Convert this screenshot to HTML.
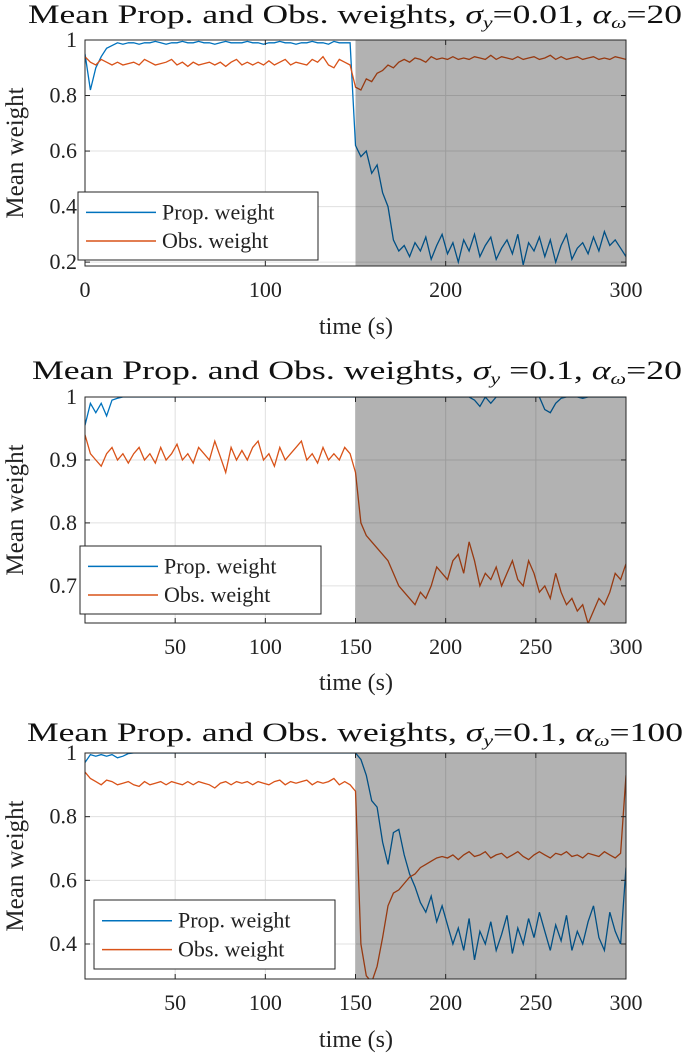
<!DOCTYPE html>
<html><head><meta charset="utf-8"><style>
html,body{margin:0;padding:0;background:#fff;}
svg{display:block;font-family:"Liberation Serif",serif;}
</style></head><body>
<svg id="fig" width="685" height="1060" viewBox="0 0 685 1060" xmlns="http://www.w3.org/2000/svg"></svg>
<script>
// time samples (s), step 3
const times = Array.from({length:101},(_,i)=>i*3);
const p1Prop = [0.95,0.82,0.90,0.94,0.97,0.98,0.99,0.985,0.99,0.99,
0.985,0.99,0.99,0.995,0.99,0.985,0.99,0.99,0.995,0.99,
0.99,0.995,0.99,0.99,0.985,0.99,0.995,0.99,0.99,0.99,
0.995,0.99,0.99,0.985,0.99,0.99,0.995,0.99,0.99,0.985,
0.99,0.99,0.995,0.99,0.99,0.985,0.995,0.99,0.99,0.99,
0.62,0.58,0.60,0.52,0.55,0.45,0.40,0.28,0.24,0.26,
0.22,0.27,0.24,0.29,0.21,0.26,0.30,0.23,0.27,0.20,
0.28,0.24,0.30,0.22,0.26,0.29,0.21,0.25,0.28,0.23,
0.30,0.19,0.27,0.24,0.29,0.22,0.28,0.20,0.26,0.30,
0.21,0.25,0.27,0.23,0.29,0.24,0.31,0.26,0.28,0.25,0.22];
const p1Obs = [0.94,0.92,0.91,0.93,0.92,0.91,0.92,0.91,0.915,0.92,
0.91,0.93,0.92,0.91,0.915,0.92,0.93,0.91,0.92,0.905,
0.92,0.91,0.915,0.92,0.91,0.92,0.905,0.92,0.93,0.91,
0.92,0.91,0.92,0.91,0.925,0.91,0.92,0.93,0.91,0.92,
0.915,0.91,0.93,0.92,0.94,0.91,0.90,0.93,0.92,0.91,
0.83,0.82,0.86,0.85,0.88,0.89,0.91,0.90,0.92,0.93,
0.92,0.935,0.93,0.92,0.94,0.93,0.935,0.93,0.94,0.93,
0.935,0.93,0.94,0.935,0.93,0.945,0.93,0.94,0.935,0.93,
0.94,0.93,0.935,0.94,0.93,0.935,0.945,0.93,0.94,0.93,
0.935,0.94,0.93,0.935,0.94,0.93,0.935,0.93,0.94,0.935,0.93];
const p2Prop = [0.955,0.99,0.975,0.99,0.97,0.995,0.998,1,1,1,
1,1,1,1,1,1,1,1,1,1,
1,1,1,1,1,1,1,1,1,1,
1,1,1,1,1,1,1,1,1,1,
1,1,1,1,1,1,1,1,1,1,
1,1,1,1,1,1,1,1,1,1,
1,1,1,1,1,1,1,1,1,1,
1,1,0.995,0.985,1,0.99,1,1,1,1,
1,1,1,1,1,0.98,0.975,0.99,0.998,1,
1,1,0.998,1,1,1,1,1,1,1,1];
const p2Obs = [0.94,0.91,0.90,0.89,0.91,0.92,0.90,0.91,0.895,0.91,
0.92,0.90,0.91,0.895,0.92,0.90,0.91,0.925,0.90,0.91,
0.895,0.92,0.91,0.90,0.93,0.905,0.88,0.92,0.90,0.915,
0.90,0.92,0.93,0.90,0.91,0.89,0.92,0.90,0.91,0.92,
0.93,0.90,0.91,0.895,0.92,0.90,0.91,0.90,0.92,0.91,
0.88,0.80,0.78,0.77,0.76,0.75,0.74,0.72,0.70,0.69,
0.68,0.67,0.69,0.68,0.70,0.73,0.72,0.71,0.74,0.75,
0.72,0.77,0.74,0.70,0.72,0.71,0.73,0.70,0.72,0.74,
0.71,0.70,0.74,0.72,0.69,0.70,0.68,0.72,0.69,0.67,
0.68,0.66,0.67,0.64,0.66,0.68,0.67,0.69,0.72,0.71,0.735];
const p3Prop = [0.97,0.995,0.99,0.995,0.99,0.995,0.985,0.99,0.998,1,
1,1,1,1,1,1,1,1,1,1,
1,1,1,1,1,1,1,1,1,1,
1,1,1,1,1,1,1,1,1,1,
1,1,1,1,1,1,1,1,1,1,
1,0.98,0.93,0.85,0.83,0.72,0.65,0.75,0.76,0.68,
0.62,0.58,0.53,0.50,0.55,0.47,0.52,0.46,0.40,0.45,
0.38,0.48,0.35,0.44,0.40,0.47,0.38,0.43,0.49,0.37,
0.45,0.40,0.48,0.42,0.50,0.44,0.38,0.46,0.41,0.49,
0.38,0.44,0.40,0.47,0.52,0.42,0.38,0.50,0.44,0.40,0.64];
const p3Obs = [0.94,0.92,0.91,0.90,0.915,0.91,0.90,0.905,0.91,0.90,
0.895,0.91,0.90,0.905,0.91,0.90,0.91,0.905,0.90,0.91,
0.90,0.91,0.905,0.90,0.89,0.905,0.91,0.90,0.91,0.905,
0.91,0.90,0.91,0.905,0.90,0.91,0.915,0.90,0.91,0.905,
0.91,0.915,0.90,0.91,0.905,0.91,0.92,0.90,0.91,0.90,
0.88,0.40,0.30,0.28,0.33,0.42,0.52,0.56,0.57,0.59,
0.61,0.62,0.64,0.65,0.66,0.67,0.675,0.67,0.68,0.665,
0.68,0.69,0.675,0.68,0.69,0.67,0.68,0.685,0.67,0.68,
0.69,0.675,0.665,0.68,0.69,0.68,0.67,0.685,0.68,0.69,
0.675,0.68,0.67,0.685,0.68,0.675,0.69,0.68,0.67,0.685,0.93];
const p1YTicks = [0.2,0.4,0.6,0.8,1];
const p1YLabels = ["0.2","0.4","0.6","0.8","1"];
const p1XTicks = [0,100,200,300];
const p2YTicks = [0.7,0.8,0.9,1];
const p2YLabels = ["0.7","0.8","0.9","1"];
const p3YTicks = [0.4,0.6,0.8,1];
const p3YLabels = ["0.4","0.6","0.8","1"];
const p23XTicks = [50,100,150,200,250,300];
const shadeStart = 150;

const NS="http://www.w3.org/2000/svg";
const svg=document.getElementById('fig');
function mk(tag,attrs,parent){const e=document.createElementNS(NS,tag);for(const k in attrs)e.setAttribute(k,attrs[k]);(parent||svg).appendChild(e);return e;}

function drawPlot(o){
  const g=mk('g',{});
  
  
  const L=85,R=626,T=o.top,B=o.bottom;
  const xs=v=>L+(v-0)/(300-0)*(R-L);
  const ys=v=>B-(v-o.ymin)/(o.ymax-o.ymin)*(B-T);
  mk('rect',{x:L,y:T,width:R-L,height:B-T,fill:'#fff'},g);
  o.xt.forEach(v=>{const l=mk('line',{x1:xs(v),x2:xs(v),y1:T,y2:B,stroke:'#e0e0e0','stroke-width':1},g);
    
    });
  o.yt.forEach(v=>{const l=mk('line',{x1:L,x2:R,y1:ys(v),y2:ys(v),stroke:'#e0e0e0','stroke-width':1},g);
    
    });
  const clipId='c'+o.name;
  const cp=mk('clipPath',{id:clipId},g);mk('rect',{x:L,y:T,width:R-L,height:B-T},cp);
  const series=[[o.prop,'#0072BD','prop-weight-line'],[o.obs,'#D95319','obs-weight-line']];
  series.forEach(([d,c,n])=>{
    const pts=times.map((t,i)=>xs(t).toFixed(1)+','+ys(d[i]).toFixed(1)).join(' ');
    const p=mk('polyline',{points:pts,fill:'none',stroke:c,'stroke-width':1.3,'clip-path':'url(#'+clipId+')'},g);
    
    
  });
  const sh=mk('rect',{x:xs(shadeStart),y:T,width:R-xs(shadeStart),height:B-T,fill:'rgba(0,0,0,0.3)'},g);
  
  
  mk('rect',{x:L,y:T,width:R-L,height:B-T,fill:'none',stroke:'#262626','stroke-width':1},g);
  o.xt.forEach(v=>{
    mk('line',{x1:xs(v),x2:xs(v),y1:B,y2:B-5,stroke:'#262626'},g);
    mk('line',{x1:xs(v),x2:xs(v),y1:T,y2:T+5,stroke:'#262626'},g);
    const t=mk('text',{x:xs(v),y:B+31,'text-anchor':'middle','font-size':22,fill:'#222'},g);
    t.textContent=String(v);
    
    
  });
  o.yt.forEach((v,i)=>{
    mk('line',{x1:L,x2:L+5,y1:ys(v),y2:ys(v),stroke:'#262626'},g);
    mk('line',{x1:R,x2:R-5,y1:ys(v),y2:ys(v),stroke:'#262626'},g);
    const t=mk('text',{x:L-8,y:ys(v)+7,'text-anchor':'end','font-size':22,fill:'#222'},g);
    t.textContent=o.yl[i];
    
    
  });
  const xl=mk('text',{x:356,y:o.xlabelY,'text-anchor':'middle','font-size':24,fill:'#222'},g);
  xl.textContent='time (s)';
  
  
  const yc=(T+B)/2;
  const yl=mk('text',{x:23,y:yc,'text-anchor':'middle','font-size':25,fill:'#222',transform:'rotate(-90 23 '+yc+')'},g);
  yl.textContent='Mean weight';
  
  
  const ti=mk('text',{x:o.tx,y:o.titleY,'font-size':26,fill:'#111',textLength:o.tw,lengthAdjust:'spacingAndGlyphs'},g);
  ti.innerHTML='Mean Prop. and Obs. weights, <tspan font-style="italic">σ</tspan><tspan font-style="italic" font-size="16" dy="5">y</tspan><tspan dy="-5">'+o.sig+', </tspan><tspan font-style="italic">α</tspan><tspan font-style="italic" font-size="16" dy="5">ω</tspan><tspan dy="-5">='+o.alpha+'</tspan>';
  
  
  const lg=mk('g',{},g);
  
  
  const [lx,ly,lw,lh]=o.leg;
  mk('rect',{x:lx,y:ly,width:lw,height:lh,fill:'#fff',stroke:'#262626','stroke-width':1},lg);
  [['Prop. weight','#0072BD'],['Obs. weight','#D95319']].forEach(([s,c],i)=>{
    const yy=ly+lh*(i===0?0.3:0.72);
    mk('line',{x1:lx+8,x2:lx+78,y1:yy,y2:yy,stroke:c,'stroke-width':1.5},lg);
    const t=mk('text',{x:lx+84,y:yy+7,'font-size':22,fill:'#222'},lg);
    t.textContent=s;
    
    
  });
}
drawPlot({name:'plot-sigma001-alpha20',top:40,bottom:266,ymin:0.186,ymax:1,prop:p1Prop,obs:p1Obs,xt:p1XTicks,yt:p1YTicks,yl:p1YLabels,xlabelY:334,titleY:23,tx:28,tw:654,sig:'=0.01',alpha:'20',leg:[78,192,240,68]});
drawPlot({name:'plot-sigma01-alpha20',top:397,bottom:623,ymin:0.641,ymax:1,prop:p2Prop,obs:p2Obs,xt:p23XTicks,yt:p2YTicks,yl:p2YLabels,xlabelY:690,titleY:379,tx:32,tw:650,sig:' =0.1',alpha:'20',leg:[80,546,241,68]});
drawPlot({name:'plot-sigma01-alpha100',top:753,bottom:979,ymin:0.29,ymax:1,prop:p3Prop,obs:p3Obs,xt:p23XTicks,yt:p3YTicks,yl:p3YLabels,xlabelY:1047,titleY:741,tx:27,tw:656,sig:'=0.1',alpha:'100',leg:[94,900,241,69]});
</script>
</body></html>
